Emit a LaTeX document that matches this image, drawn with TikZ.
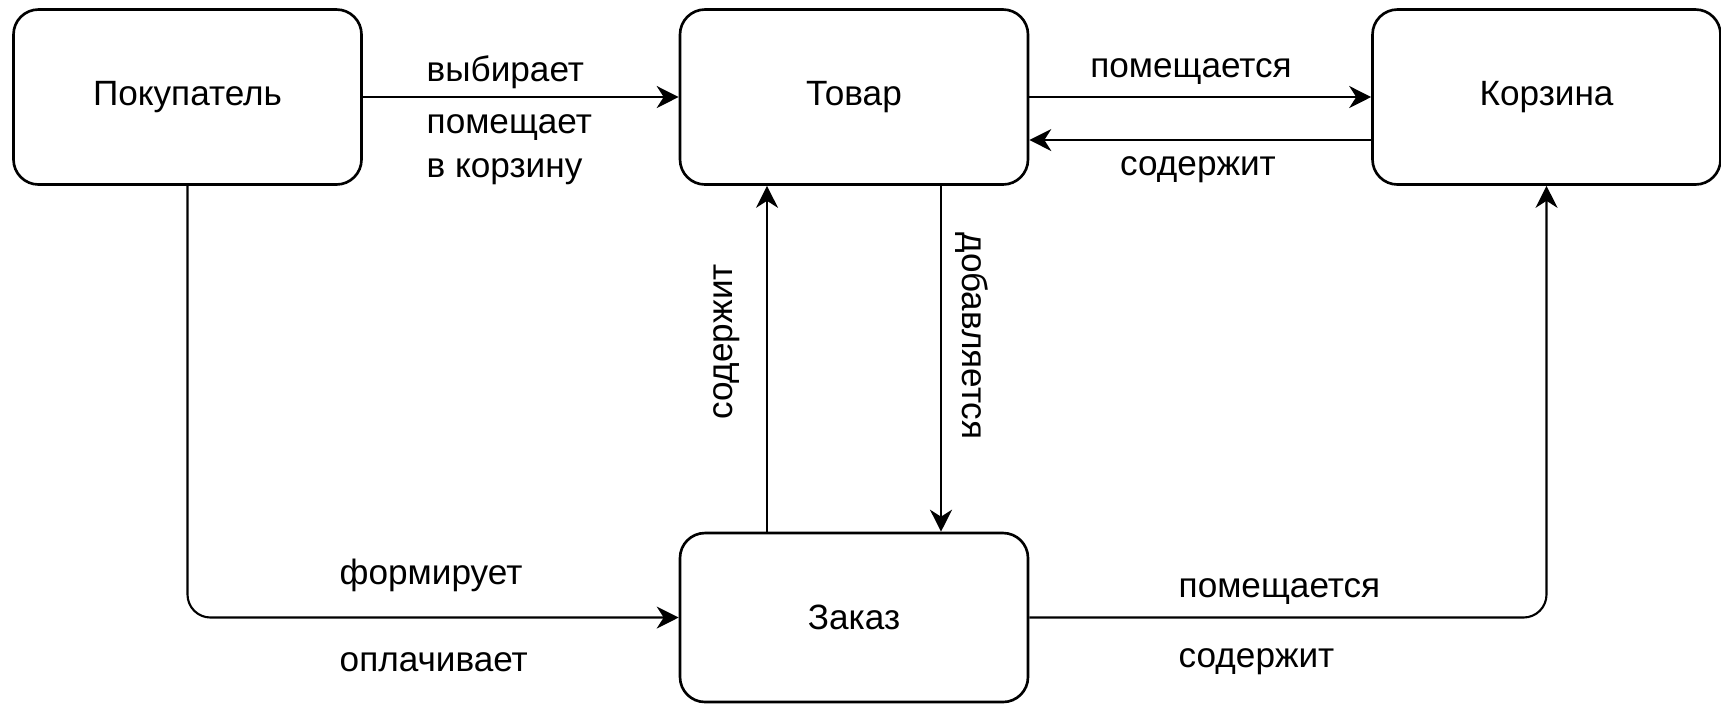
\documentclass[tikz,border=0pt]{standalone}
\usepackage{fontspec}
\setmainfont{Liberation Sans}
\usetikzlibrary{arrows.meta, positioning}

\begin{document}
\begin{tikzpicture}[
    % GLOBAL CFG
    font=\fontsize{10}{11}\selectfont,
    >={Stealth[length=2.2mm, width=2.2mm, inset=0.7mm]},
    % Styles
    entity/.style={% For the main boxes
        rectangle,
        rounded corners=2.5mm,
        draw,
        line width=0.75pt,
        minimum width=3.48cm,
        minimum height=1.75cm,
        },
    link/.style={% Arrows between boxes
        ->,
        line width=0.6pt,
        rounded corners=2.3mm,
        },
    mylabel/.style={% Text on the arrows
        inner sep=0pt,
        },
    ]

\useasboundingbox (0,0) rectangle (17.21,-7.06);

    % Draw the boxes
    \node [entity] (pok) at (1.875,-0.97) {Покупатель};
    \node [entity] (tov) at (8.54,-0.97) {Товар};
    \node [entity] (kor) at (15.465,-0.97) {Корзина};
    \node [entity, minimum height=1.69cm] (zak) at (8.54,-6.175) {Заказ};

    % Draw the labels
    \node [mylabel, anchor=west] (l1) at (4.26,-0.72) {выбирает};
    \node [mylabel, anchor=west, align=left, font=\fontsize{10}{12.5}\selectfont] (l2) at (4.26,-1.50) {помещает\\в корзину};
    \node [mylabel] (l3) at (11.91,-0.72) {помещается};
    \node [mylabel] (l4) at (11.98,-1.70) {содержит};
    \node [mylabel, rotate=90] (l5) at (7.27,-3.42) {содержит};
    \node [mylabel, rotate=-90] (l6) at (9.72,-3.36) {добавляется};
    \node [mylabel, anchor=west] (l7) at (3.39,-5.75) {формирует};
    \node [mylabel, anchor=west] (l8) at (3.39,-6.62) {оплачивает};
    \node [mylabel, anchor=west] (l9) at (11.78,-5.92) {помещается};
    \node [mylabel, anchor=west] (l10) at (11.78,-6.62) {содержит};

    % Connect the boxes
    \draw [link] (pok) -- (tov);
    \draw [link] (tov) -- (kor);
    \draw [link] ([yshift=-4.3mm]kor.west) -- ([yshift=-4.3mm]tov.east);
    \draw [link] ([xshift=-8.7mm]zak.north) -- ([xshift=-8.7mm]tov.south);
    \draw [link] ([xshift=8.7mm]tov.south) -- ([xshift=8.7mm]zak.north);
    \draw [link] (pok.south) |- (zak.west);
    \draw [link] (zak.east) -| (kor.south);

\end{tikzpicture}
\end{document}
